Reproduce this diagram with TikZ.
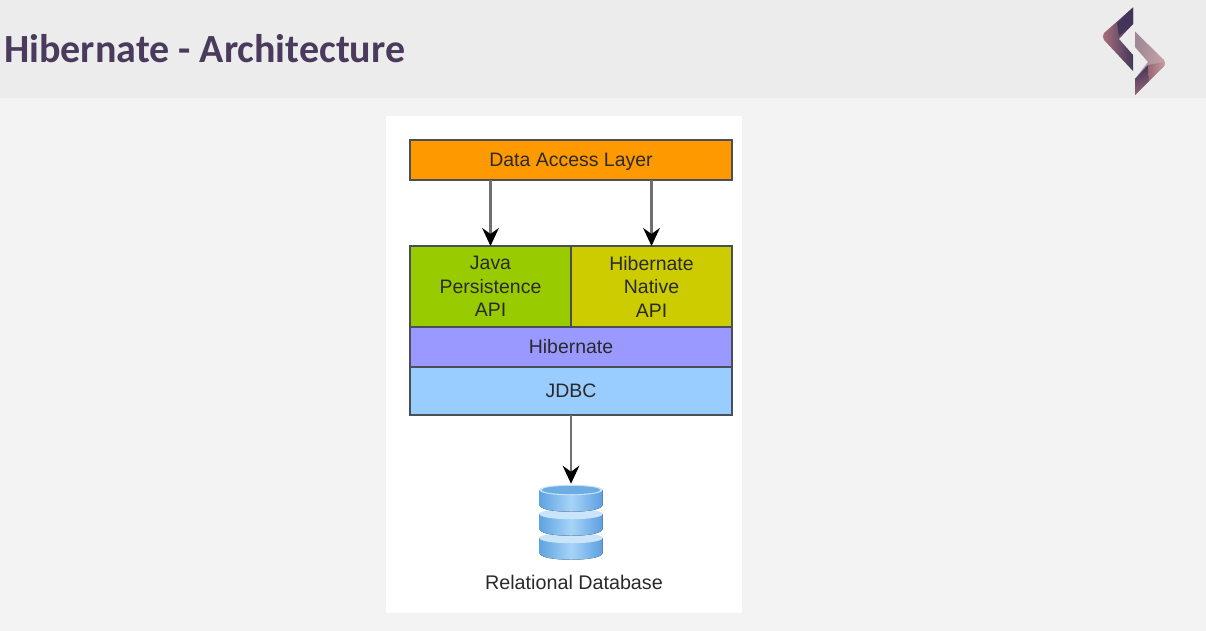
\documentclass[tikz,border=0pt]{standalone}
\usepackage{fontspec}
\setmainfont{Liberation Sans}
\newfontfamily\titlefont{Carlito}
\usetikzlibrary{arrows.meta}
\definecolor{pagebg}{HTML}{F3F3F3}
\definecolor{headbg}{HTML}{ECECEC}
\definecolor{titleink}{HTML}{4A3B5C}
\definecolor{edge}{HTML}{4A4F55}
\definecolor{wire}{HTML}{707070}
\definecolor{ink}{HTML}{2A2A2A}
\definecolor{cOrange}{HTML}{FF9900}
\definecolor{cGreen}{HTML}{99CC00}
\definecolor{cYellow}{HTML}{CCCC00}
\definecolor{cPurple}{HTML}{9999FF}
\definecolor{cBlue}{HTML}{99CCFF}
\definecolor{dbL}{HTML}{5FA3E0}
\definecolor{dbM}{HTML}{A6D4F7}
\definecolor{dbR}{HTML}{5C9FE0}
\definecolor{logoD}{HTML}{43355A}
\definecolor{logoP}{HTML}{A8707A}
\definecolor{logoL}{HTML}{C9A3A8}
\definecolor{logoG}{HTML}{9C8796}
\tikzset{
  layer/.style={draw=edge,line width=1.5pt,text=ink,font=\fontsize{14.6}{17.6}\selectfont,
    align=center,inner sep=0pt,outer sep=0pt,anchor=center},
  flow/.style={draw=wire,line width=1.9pt,-{Stealth[black,length=13.5pt,width=12.5pt,inset=4.5pt]}},
  disk/.style={left color=dbL,right color=dbR,middle color=dbM,draw=none},
}
\begin{document}
\begin{tikzpicture}[x=0.75pt,y=-0.75pt]
\useasboundingbox (0,0) rectangle (1206,631);
\fill[pagebg] (0,0) rectangle (1206,631);
\fill[headbg] (0,0) rectangle (1206,98);
\node[anchor=west,inner sep=0pt,text=titleink,font=\titlefont\bfseries\fontsize{30}{34}\selectfont] (title) at (4,49) {Hibernate - Architecture};
% logo: left chevron
\shade[left color=logoP,right color=logoD]
  (1133,7.5) -- (1104,33) .. controls (1102.5,35) and (1102.5,38) .. (1104,40)
  -- (1133,71) -- (1133,55) -- (1119,39) -- (1133,24) -- cycle;
\fill[logoD] (1117,23) -- (1133,7.5) -- (1133,24) -- (1119,36) -- cycle;
% logo: right chevron
\shade[left color=logoG,right color=logoL]
  (1135,31.5) -- (1164,60) .. controls (1165.5,62) and (1165.5,64) .. (1164,66)
  -- (1135,95) -- (1135,79) -- (1148,62) -- (1135,47) -- cycle;
\shade[left color=logoD,right color=logoP!80!logoD,shading angle=20]
  (1135,95) -- (1135,79) -- (1148,65) -- (1149,81) -- cycle;
\shade[left color=logoP!85!logoD,right color=logoL!90!logoP] (1148,65) -- (1164,62) .. controls (1165.5,63) and (1165.5,65) .. (1164,66) -- (1149,81) -- cycle;
% panel
\fill[white] (386,116) rectangle (742,613);
% layers
\node[layer,fill=cOrange,minimum width=241.5pt,minimum height=30pt,text depth=0pt] (dal) at (571,160) {Data Access Layer};
\node[layer,fill=cGreen,minimum width=120.75pt,minimum height=60.75pt] (java) at (490.5,286.5) {Java\\Persistence\\API};
\node[layer,fill=cYellow,minimum width=120.75pt,minimum height=60.75pt] (native) at (651.5,286.5) {Hibernate\\Native\\API};
\node[layer,fill=cPurple,minimum width=241.5pt,minimum height=30pt] (hib) at (571,347) {Hibernate};
\node[layer,fill=cBlue,minimum width=241.5pt,minimum height=36pt] (jdbc) at (571,391) {JDBC};
% database
\node[inner sep=0pt,minimum width=48pt,minimum height=57pt] (db) at (571,522) {};
\foreach \t in {538,514,490}{
  \fill[disk] (539.5,\t) -- (602.5,\t) -- (602.5,\t+15)
    .. controls (602.5,\t+24) and (539.5,\t+24) .. (539.5,\t+15) -- cycle;
  \fill[dbM!60!white] (539.5,\t) .. controls (539.5,\t-7) and (602.5,\t-7) .. (602.5,\t)
    .. controls (602.5,\t+7) and (539.5,\t+7) .. (539.5,\t) -- cycle;
}
\fill[dbL!80!dbM] (542,490) .. controls (542,484.5) and (600,484.5) .. (600,490)
    .. controls (600,495.5) and (542,495.5) .. (542,490) -- cycle;
\node[inner sep=0pt,text=ink,font=\fontsize{14.8}{16}\selectfont] (dblabel) at (574,582) {Relational Database};
% connectors
\draw[flow] (dal.south -| java.north) -- (java.north);
\draw[flow] (dal.south -| native.north) -- (native.north);
\draw[flow] (jdbc.south) -- (db.north);
\end{tikzpicture}
\end{document}
